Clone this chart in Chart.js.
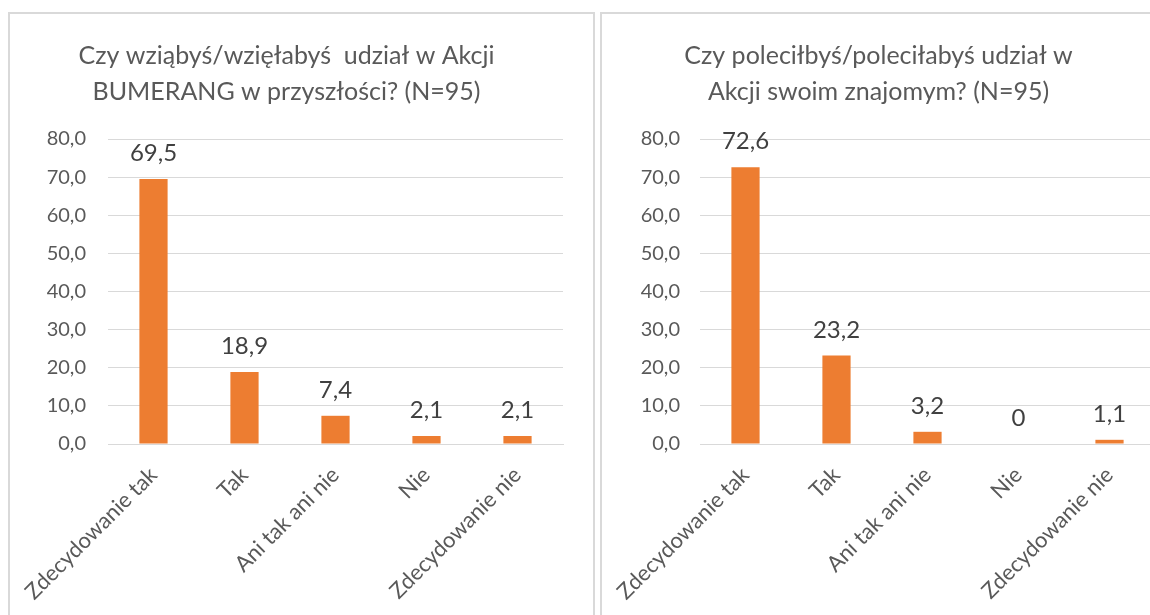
<!DOCTYPE html>
<html>
<head>
<meta charset="utf-8">
<script src="https://cdn.jsdelivr.net/npm/chart.js@4.4.0/dist/chart.umd.min.js"></script>
<style>
  body { margin: 0; background: #fff; overflow: hidden; width: 1150px; height: 615px; position: relative; }
  .panel { position: absolute; top: 12px; width: 583px; height: 640px; border: 2px solid #d9d9d9; background: #fff; }
  .panel canvas { position: absolute; left: 0; top: 0; }
  #panel1 { left: 8px; }
  #panel2 { left: 600px; }
</style>
</head>
<body>
<div class="panel" id="panel1"><canvas id="wziecie_udzialu" width="583" height="601"></canvas></div>
<div class="panel" id="panel2"><canvas id="polecenie" width="583" height="601"></canvas></div>
<script>
// dane z ankiety (N=95), wartosci w %
const kategorie = ['Zdecydowanie tak', 'Tak', 'Ani tak ani nie', 'Nie', 'Zdecydowanie nie'];
const wziecieUdzialu = [69.5, 18.9, 7.4, 2.1, 2.1];
const polecenie = [72.6, 23.2, 3.2, 0, 1.1];
const tytul1 = ['Czy wziąbyś/wzięłabyś  udział w Akcji', 'BUMERANG w przyszłości? (N=95)'];
const tytul2 = ['Czy poleciłbyś/poleciłabyś udział w', 'Akcji swoim znajomym? (N=95)'];

const czcionka = 'Lato';
const pomarancz = '#ED7D31';
const szary = '#595959';

function liczba(v) {
  return v.toFixed(1).replace('.', ',');
}

// etykiety nad slupkami (zamiast ChartDataLabels)
const etykiety = {
  id: 'etykiety',
  afterDatasetsDraw(chart) {
    const c = chart.ctx;
    const meta = chart.getDatasetMeta(0);
    const dane = chart.data.datasets[0].data;
    c.save();
    c.font = '24px ' + czcionka;
    c.fillStyle = '#404040';
    c.textAlign = 'center';
    c.textBaseline = 'alphabetic';
    meta.data.forEach(function (bar, i) {
      const v = dane[i];
      const txt = v === 0 ? '0' : liczba(v);
      c.fillText(txt, bar.x, bar.y - 18);
    });
    c.restore();
  }
};

function wykres(id, dane, tytul, yPadding) {
  const ctx = document.getElementById(id).getContext('2d');
  return new Chart(ctx, {
    type: 'bar',
    plugins: [etykiety],
    data: {
      labels: kategorie,
      datasets: [{
        data: dane,
        backgroundColor: pomarancz,
        borderWidth: 0,
        barPercentage: 0.31,
        categoryPercentage: 1
      }]
    },
    options: {
      responsive: false,
      animation: false,
      layout: { padding: { left: 0, right: 30, top: 0, bottom: 0 } },
      scales: {
        y: {
          min: 0,
          max: 80,
          ticks: {
            stepSize: 10,
            padding: yPadding,
            color: szary,
            font: { family: czcionka, size: 20 },
            callback: function (value) { return liczba(value); }
          },
          grid: { color: '#d9d9d9', lineWidth: 1, drawTicks: false },
          border: { display: false },
          afterFit: function (scale) { scale.width = 98; }
        },
        x: {
          ticks: {
            minRotation: 45,
            maxRotation: 45,
            padding: 18,
            color: szary,
            font: { family: czcionka, size: 22 }
          },
          grid: { display: false, drawTicks: false },
          border: { display: true, color: '#d9d9d9', width: 1 },
          afterFit: function (scale) {
            scale.height = 171;
            scale.paddingLeft = 0;
            scale.paddingRight = 0;
          }
        }
      },
      plugins: {
        legend: { display: false },
        tooltip: { enabled: false },
        title: {
          display: true,
          text: tytul,
          color: szary,
          font: { family: czcionka, size: 25, weight: 'normal', lineHeight: 1.44 },
          padding: { top: 24, bottom: 29 }
        }
      }
    }
  });
}

const chart1 = wykres('wziecie_udzialu', wziecieUdzialu, tytul1, 22);
const chart2 = wykres('polecenie', polecenie, tytul2, 20);
</script>
</body>
</html>
